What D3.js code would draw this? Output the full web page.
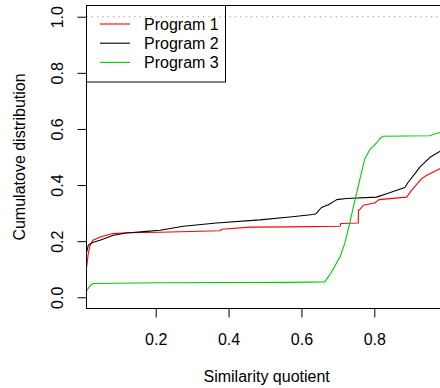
<!DOCTYPE html>
<html>
<head>
<meta charset="utf-8">
<script src="https://cdn.jsdelivr.net/npm/d3@7/dist/d3.min.js"></script>
<style>
  html, body { margin: 0; padding: 0; background: #fff; }
  svg { display: block; font-family: "Liberation Sans", Arial, Helvetica, sans-serif; }
</style>
</head>
<body>
<svg id="chart" width="440" height="388"></svg>
<script>
// Cumulative distribution of similarity quotients for three programs
const seriesNames = ["Program 1", "Program 2", "Program 3"];
const seriesColors = ["#ff0000", "#000000", "#00cd00"];

const prog1X = [0.0107, 0.0143, 0.0198, 0.028, 0.047, 0.083, 0.120, 0.212, 0.376, 0.382, 0.459, 0.568, 0.706, 0.708, 0.756, 0.7565, 0.761, 0.770, 0.801, 0.813, 0.889, 0.902, 0.930, 0.943, 0.985];
const prog1Y = [0.109, 0.150, 0.186, 0.203, 0.215, 0.227, 0.230, 0.232, 0.237, 0.2425, 0.250, 0.251, 0.253, 0.263, 0.265, 0.310, 0.314, 0.328, 0.336, 0.348, 0.357, 0.381, 0.423, 0.434, 0.462];

const prog2X = [0.0107, 0.0151, 0.0244, 0.047, 0.0837, 0.120, 0.175, 0.212, 0.276, 0.367, 0.486, 0.568, 0.632, 0.640, 0.655, 0.674, 0.697, 0.724, 0.806, 0.834, 0.884, 0.893, 0.911, 0.925, 0.953, 0.985];
const prog2Y = [0.162, 0.186, 0.194, 0.2035, 0.221, 0.229, 0.235, 0.239, 0.253, 0.265, 0.276, 0.286, 0.295, 0.298, 0.320, 0.330, 0.348, 0.352, 0.357, 0.369, 0.391, 0.410, 0.440, 0.464, 0.499, 0.524];

const prog3X = [0.0088, 0.0151, 0.0217, 0.0288, 0.212, 0.577, 0.664, 0.669, 0.683, 0.706, 0.719, 0.733, 0.747, 0.761, 0.774, 0.788, 0.797, 0.806, 0.815, 0.824, 0.952, 0.966, 0.985];
const prog3Y = [0.020, 0.032, 0.044, 0.049, 0.052, 0.053, 0.055, 0.064, 0.091, 0.144, 0.192, 0.267, 0.346, 0.424, 0.494, 0.527, 0.538, 0.550, 0.565, 0.574, 0.576, 0.582, 0.589];

const xTicks = [0.2, 0.4, 0.6, 0.8];
const yTicks = [0.0, 0.2, 0.4, 0.6, 0.8, 1.0];

const series = [
  { name: seriesNames[0], color: seriesColors[0], pts: d3.zip(prog1X, prog1Y) },
  { name: seriesNames[1], color: seriesColors[1], pts: d3.zip(prog2X, prog2Y) },
  { name: seriesNames[2], color: seriesColors[2], pts: d3.zip(prog3X, prog3Y) }
];

const svg = d3.select("#chart");

// Plot region (right edge runs just past the window)
const plotLeft = 86.5, plotRight = 446.8, plotTop = 5.5, plotBottom = 308.5;

const x = d3.scaleLinear().domain([0.0101, 0.999]).range([plotLeft, plotRight]);
const y = d3.scaleLinear().domain([-0.04, 1.04]).range([plotBottom, plotTop]);

svg.append("defs").append("clipPath").attr("id", "plotClip")
  .append("rect")
  .attr("x", plotLeft).attr("y", plotTop)
  .attr("width", plotRight - plotLeft).attr("height", plotBottom - plotTop);

// Reference line at F = 1
svg.append("line")
  .attr("x1", plotLeft).attr("x2", plotRight)
  .attr("y1", y(1)).attr("y2", y(1))
  .attr("stroke", "#a0a0a0")
  .attr("stroke-width", 1)
  .attr("stroke-dasharray", "1.3,4");

// Curves
const line = d3.line().x(d => x(d[0])).y(d => y(d[1]));
const curves = svg.append("g").attr("clip-path", "url(#plotClip)");
series.forEach(s => {
  curves.append("path")
    .attr("d", line(s.pts))
    .attr("fill", "none")
    .attr("stroke", s.color)
    .attr("stroke-width", 1.1)
    .attr("stroke-linejoin", "round");
});

// Plot frame
svg.append("rect")
  .attr("x", plotLeft).attr("y", plotTop)
  .attr("width", plotRight - plotLeft).attr("height", plotBottom - plotTop)
  .attr("fill", "none").attr("stroke", "#000").attr("stroke-width", 1);

// X axis
const xAxis = d3.axisBottom(x).tickValues(xTicks).tickSize(9).tickPadding(0)
  .tickFormat(d3.format(".1f"));
const gx = svg.append("g").attr("transform", `translate(0,${plotBottom})`).call(xAxis);
gx.select(".domain").remove();
gx.selectAll(".tick line").attr("stroke", "#000");
gx.selectAll(".tick text")
  .attr("y", 36).attr("dy", 0)
  .attr("fill", "#000")
  .attr("font-size", 16)
  .attr("font-family", "Liberation Sans, Arial, sans-serif");

// Y axis
const yAxis = d3.axisLeft(y).tickValues(yTicks).tickSize(9).tickPadding(0)
  .tickFormat(d3.format(".1f"));
const gy = svg.append("g").attr("transform", `translate(${plotLeft},0)`).call(yAxis);
gy.select(".domain").remove();
gy.selectAll(".tick line").attr("stroke", "#000");
gy.selectAll(".tick text")
  .attr("x", 0).attr("dy", 0)
  .attr("transform", "translate(-23.5,0) rotate(-90)")
  .attr("text-anchor", "middle")
  .attr("fill", "#000")
  .attr("font-size", 16)
  .attr("font-family", "Liberation Sans, Arial, sans-serif");

// Axis titles
svg.append("text")
  .attr("x", (plotLeft + plotRight) / 2).attr("y", 381.5)
  .attr("text-anchor", "middle")
  .attr("font-size", 16)
  .text("Similarity quotient");

svg.append("text")
  .attr("transform", `translate(25,${(plotTop + plotBottom) / 2}) rotate(-90)`)
  .attr("text-anchor", "middle")
  .attr("font-size", 16)
  .text("Cumulatove distribution");

// Legend
const legend = svg.append("g");
legend.append("rect")
  .attr("x", plotLeft).attr("y", plotTop)
  .attr("width", 225.5 - plotLeft).attr("height", 82 - plotTop)
  .attr("fill", "none").attr("stroke", "#000").attr("stroke-width", 1);
series.forEach((s, i) => {
  const ly = 24 + i * 19.2;
  legend.append("line")
    .attr("x1", 100).attr("x2", 130)
    .attr("y1", ly).attr("y2", ly)
    .attr("stroke", s.color).attr("stroke-width", 1.1);
  legend.append("text")
    .attr("x", 144).attr("y", ly + 5.6)
    .attr("font-size", 16)
    .text(s.name);
});
</script>
</body>
</html>
